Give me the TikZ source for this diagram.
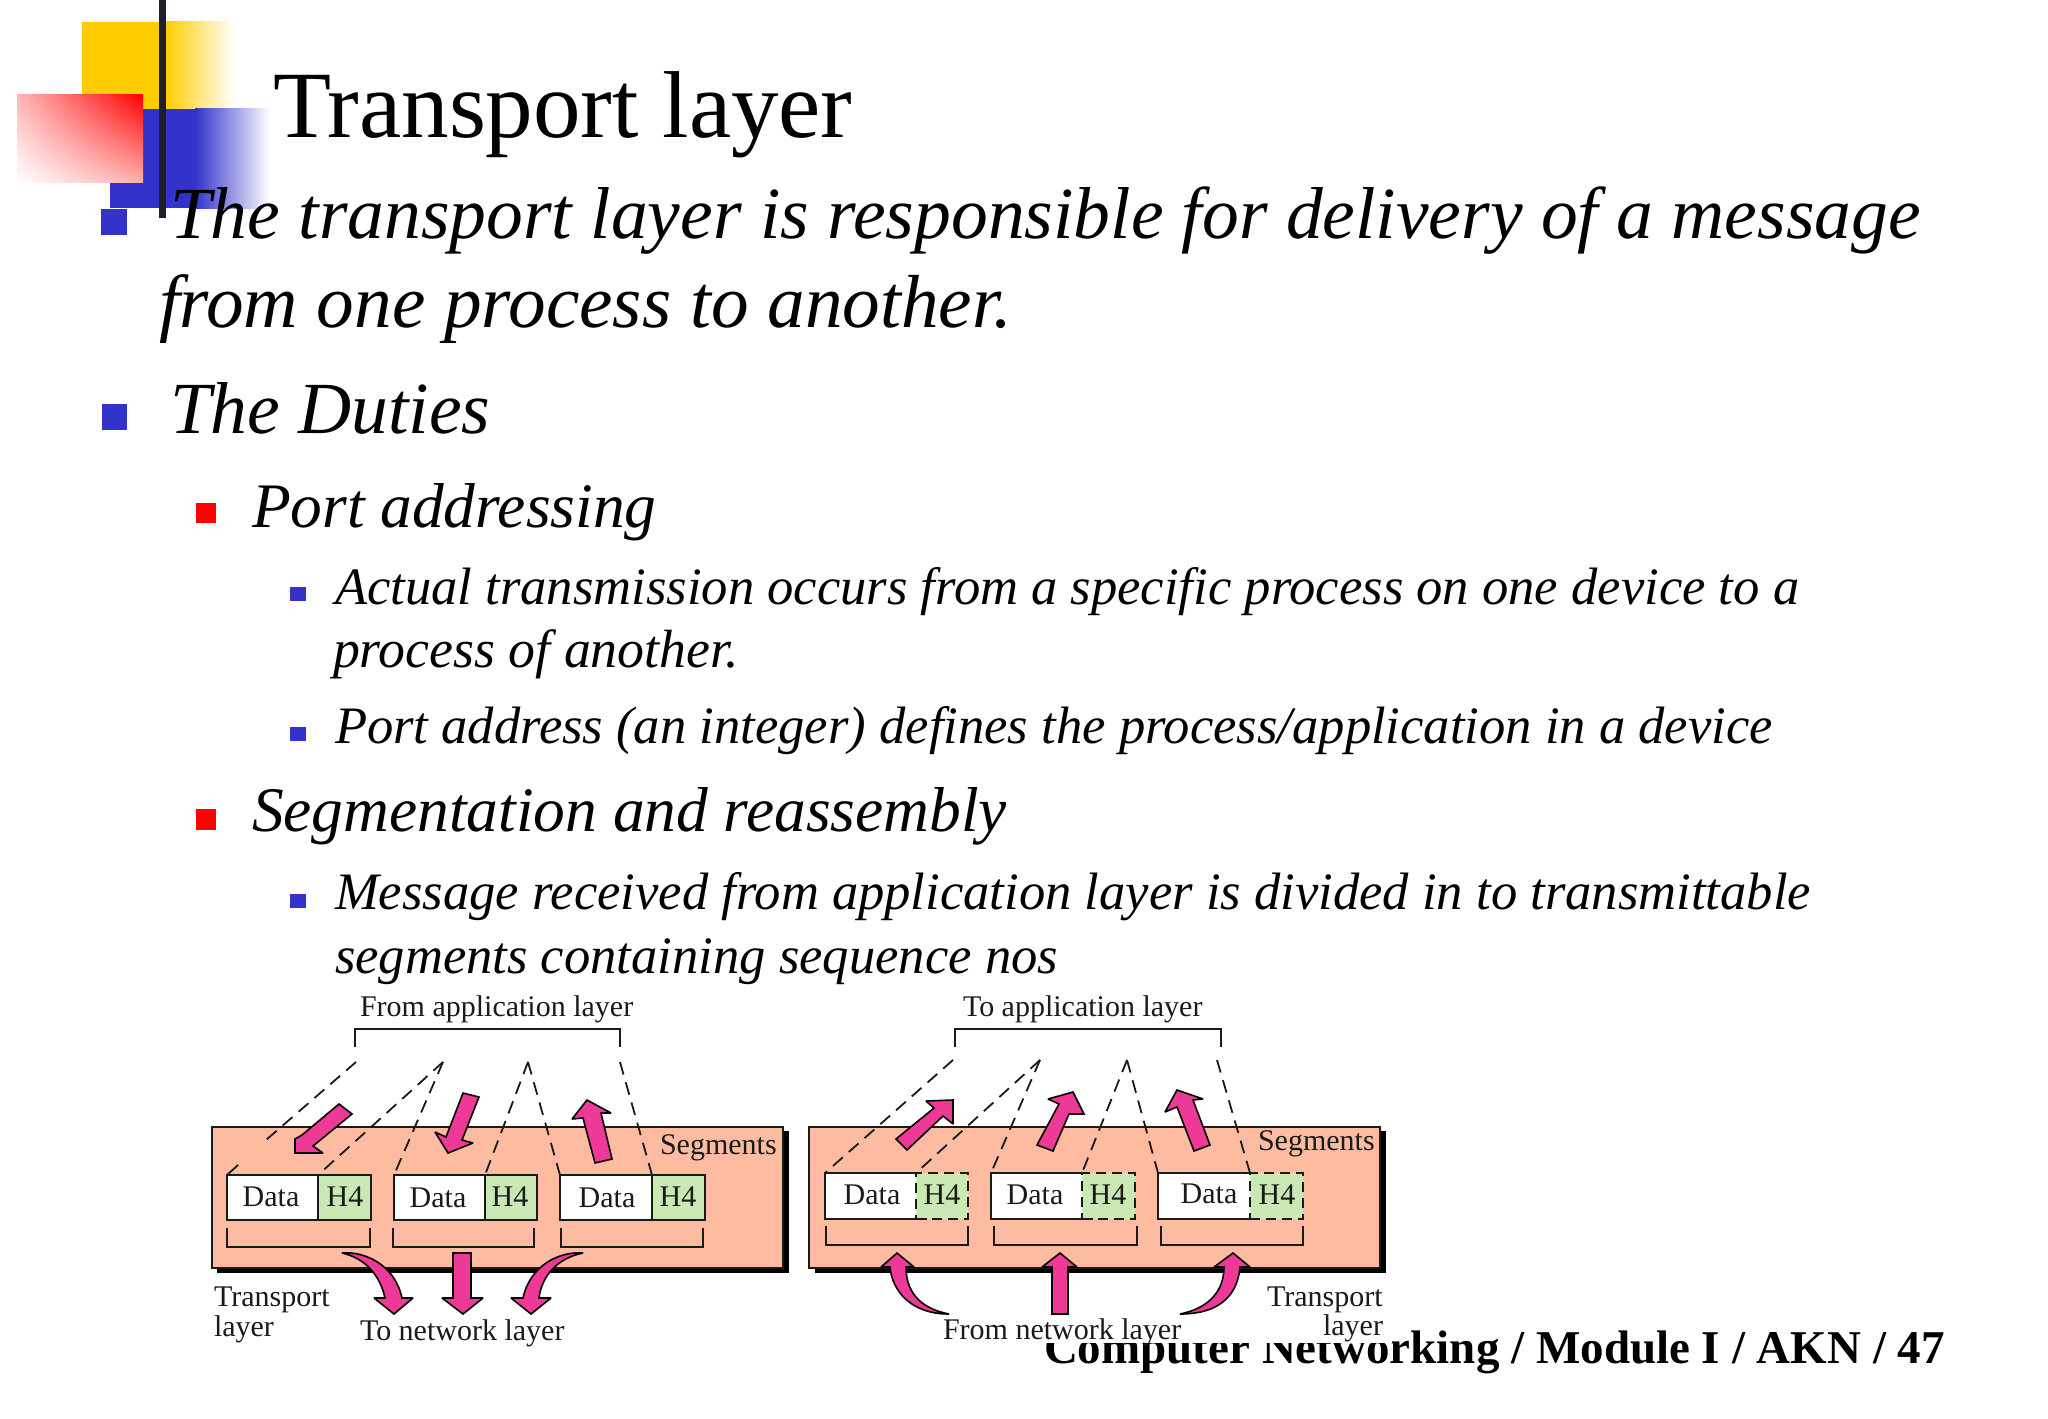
\documentclass[tikz,border=0pt]{standalone}
\usepackage{fontspec}
\usetikzlibrary{shadings}
\setmainfont{Liberation Serif}
\definecolor{yellowc}{HTML}{FFCC00}
\definecolor{bluec}{HTML}{3333CC}
\definecolor{lbar}{HTML}{1F1F2B}
\definecolor{panelc}{HTML}{FDBCA2}
\definecolor{hfour}{HTML}{C9E8B4}
\definecolor{pinkc}{HTML}{EE3A96}
\definecolor{inkc}{HTML}{1A1A1A}
\newcommand{\fsz}[1]{\fontsize{#1}{#1}\selectfont}
\tikzset{
  txt/.style={anchor=base west,inner sep=0pt,outer sep=0pt,text=black},
  titlet/.style={txt,font=\fsz{47.5}},
  lone/.style={txt,font=\fsz{36.75}\itshape},
  loneb/.style={txt,font=\fsz{37.6}\itshape},
  ltwo/.style={txt,font=\fsz{31.7}\itshape},
  lthree/.style={txt,font=\fsz{26.3}\itshape},
  lthreeb/.style={txt,font=\fsz{26.9}\itshape},
  foot/.style={txt,font=\fsz{23.5}\bfseries},
  small/.style={txt,font=\fsz{15},text=inkc},
  smallc/.style={anchor=base,inner sep=0pt,outer sep=0pt,font=\fsz{15},text=inkc},
  panel/.style={fill=panelc,draw=inkc,line width=.9pt},
  shadowbox/.style={fill=black},
  pkarrow/.style={fill=pinkc,draw=black,line width=.8pt,line join=miter,miter limit=2},
  dline/.style={draw=inkc,line width=.9pt,dash pattern=on 6.5pt off 4pt},
  pline/.style={draw=inkc,line width=.9pt},
  whitebox/.style={anchor=north west,fill=white,draw=inkc,line width=.9pt,inner sep=0pt,outer sep=0pt,minimum height=22.5pt},
  greenbox/.style={anchor=north west,fill=hfour,draw=inkc,line width=.9pt,inner sep=0pt,outer sep=0pt,minimum height=22.5pt},
  whitefill/.style={anchor=north west,fill=white,inner sep=0pt,outer sep=0pt,minimum height=23pt},
  greendash/.style={anchor=north west,fill=hfour,draw=inkc,line width=.9pt,dash pattern=on 5pt off 3pt,inner sep=0pt,outer sep=0pt,minimum height=23pt},
}
\begin{document}
\begin{tikzpicture}[x=0.5pt,y=-0.5pt]
\useasboundingbox (0,0) rectangle (2048,1418);
% corner decoration
\fill[yellowc] (82,22) rectangle (166,110);
\shade[left color=yellowc,right color=white] (165,22) rectangle (235,110);
\fill[bluec] (110,109) rectangle (196,208);
\shade[left color=bluec,right color=white] (195,109) rectangle (270,208);
\shade[upper right=red,lower left=white,upper left=red!28!white,lower right=red!32!white] (17,95) rectangle (143,182);
\fill[lbar] (159,0) rectangle (166,218);
% bullets
\fill[bluec] (101,209) rectangle (127,235);
\fill[bluec] (102,404) rectangle (127,430);
\fill[red] (196,503) rectangle (216,523);
\fill[red] (196,809) rectangle (216,830);
\fill[bluec] (290,587) rectangle (306,601);
\fill[bluec] (290,727) rectangle (306,741);
\fill[bluec] (290,894) rectangle (306,908);
% text
\node[titlet] (title) at (273,137) {Transport layer};
\node[lone] (t1) at (170,238) {The transport layer is responsible for delivery of a message};
\node[loneb] (t2) at (159,327) {from one process to another.};
\node[lone] (t3) at (170,433) {The Duties};
\node[ltwo] (t4) at (252,527) {Port addressing};
\node[lthree] (t5) at (335,604) {Actual transmission occurs from a specific process on one device to a};
\node[lthreeb] (t6) at (333,667) {process of another.};
\node[lthree] (t7) at (335,743) {Port address (an integer) defines the process/application in a device};
\node[ltwo] (t8) at (252,831) {Segmentation and reassembly};
\node[lthree] (t9) at (335,909) {Message received from application layer is divided in to transmittable};
\node[lthree] (t10) at (335,973) {segments containing sequence nos};
\node[foot] (footer) at (1044,1363) {Computer Networking / Module I / AKN / 47};
% white image background hiding the footer's top
\fill[white] (150,1005) rectangle (1392,1343);

% ---------- left panel
\fill[shadowbox] (217,1131) rectangle (789,1273);
\draw[panel] (212,1127) rectangle (783,1268);
\node[whitebox,minimum width=45.5pt] (ld1) at (227,1175) {};
\node[greenbox,minimum width=26.5pt] (lh1) at (ld1.north east) {};
\node[whitebox,minimum width=45.5pt] (ld2) at (394,1175) {};
\node[greenbox,minimum width=26pt] (lh2) at (ld2.north east) {};
\node[whitebox,minimum width=46pt] (ld3) at (560,1175) {};
\node[greenbox,minimum width=26.5pt] (lh3) at (ld3.north east) {};
\node[smallc] (ldt1) at (271,1206) {Data};
\node[smallc] (ldt2) at (438,1207) {Data};
\node[smallc] (ldt3) at (607,1207) {Data};
\node[smallc] (lht1) at (345,1206) {H4};
\node[smallc] (lht2) at (510,1206) {H4};
\node[smallc] (lht3) at (678,1206) {H4};
\draw[pline] (227,1228) -- (227,1247) -- (370,1247) -- (370,1228);
\draw[pline] (393,1228) -- (393,1247) -- (534,1247) -- (534,1228);
\draw[pline] (561,1228) -- (561,1247) -- (703,1247) -- (703,1228);
\draw[pline] (355,1047) -- (355,1029) -- (620,1029) -- (620,1047);
\coordinate (la) at (356,1062);
\coordinate (lb) at (443,1062);
\coordinate (lc) at (528,1062);
\coordinate (ld) at (620,1062);
\coordinate (lgap1) at (266,1140);
\coordinate (lgap2) at (238,1165);
\draw[dline] (la) -- (lgap1);
\draw[pline] (lgap2) -- (ld1.north west);
\draw[dline] (lb) -- (ld1.north east);
\draw[dline] (lb) -- (ld2.north west);
\draw[dline] (lc) -- (ld2.north east);
\draw[dline] (lc) -- (ld3.north west);
\draw[dline] (ld) -- (ld3.north east);
\draw[pkarrow] (339,1104) -- (352,1114) -- (313,1146) -- (323,1153) -- (295,1153) -- (295,1139) -- (302,1135) -- cycle;
\draw[pkarrow] (463,1093) -- (479,1097) -- (462,1140) -- (473,1143) -- (448,1153) -- (435,1132) -- (446,1137) -- cycle;
\draw[pkarrow] (595,1163) -- (612,1159) -- (601,1113) -- (611,1113) -- (587,1100) -- (572,1119) -- (583,1118) -- cycle;
\draw[pkarrow] (342,1253) .. controls (365,1251) and (395,1265) .. (402,1298) -- (413,1298) -- (394,1314) -- (374,1298) -- (385,1298) .. controls (380,1275) and (365,1258) .. cycle;
\draw[pkarrow] (453,1253) -- (471,1253) -- (471,1298) -- (483,1298) -- (463,1314) -- (442,1298) -- (453,1298) -- cycle;
\draw[pkarrow] (583,1253) .. controls (560,1251) and (530,1265) .. (523,1298) -- (511,1298) -- (531,1314) -- (551,1298) -- (539,1298) .. controls (542,1275) and (558,1258) .. cycle;
\node[small] (lfrom) at (360,1016) {From application layer};
\node[small] (lseg) at (660,1154) {Segments};
\node[small] (ltr) at (214,1306) {Transport};
\node[small] (lly) at (214,1336) {layer};
\node[small] (lnet) at (360,1340) {To network layer};

% ---------- right panel
\fill[shadowbox] (815,1131) rectangle (1386,1273);
\draw[panel] (809,1127) rectangle (1380,1268);
\node[whitefill,minimum width=45.5pt] (rd1) at (825,1173) {};
\node[greendash,minimum width=26pt] (rh1) at (rd1.north east) {};
\node[whitefill,minimum width=45.5pt] (rd2) at (991,1173) {};
\node[greendash,minimum width=26.5pt] (rh2) at (rd2.north east) {};
\node[whitefill,minimum width=46pt] (rd3) at (1158,1173) {};
\node[greendash,minimum width=26.5pt] (rh3) at (rd3.north east) {};
\draw[pline] (rd1.north east) -- (rd1.north west) -- (rd1.south west) -- ++(102,0);
\draw[pline] (rd2.north east) -- (rd2.north west) -- (rd2.south west) -- ++(102,0);
\draw[pline] (rd3.north east) -- (rd3.north west) -- (rd3.south west) -- ++(102,0);
\node[smallc] (rdt1) at (872,1204) {Data};
\node[smallc] (rdt2) at (1035,1204) {Data};
\node[smallc] (rdt3) at (1209,1203) {Data};
\node[smallc] (rht1) at (942,1204) {H4};
\node[smallc] (rht2) at (1108,1204) {H4};
\node[smallc] (rht3) at (1277,1204) {H4};
\draw[pline] (826,1226) -- (826,1245) -- (968,1245) -- (968,1226);
\draw[pline] (994,1226) -- (994,1245) -- (1137,1245) -- (1137,1226);
\draw[pline] (1161,1226) -- (1161,1245) -- (1303,1245) -- (1303,1226);
\draw[pline] (955,1047) -- (955,1029) -- (1221,1029) -- (1221,1047);
\coordinate (ra) at (953,1060);
\coordinate (rb) at (1040,1060);
\coordinate (rc) at (1127,1060);
\coordinate (rd) at (1217,1060);
\draw[dline] (ra) -- (rd1.north west);
\draw[dline] (rb) -- (rd1.north east);
\draw[dline] (rb) -- (rd2.north west);
\draw[dline] (rc) -- (rd2.north east);
\draw[dline] (rc) -- (rd3.north west);
\draw[dline] (rd) -- (rd3.north east);
\draw[pkarrow] (896,1139) -- (907,1150) -- (943,1116) -- (953,1124) -- (953,1100) -- (926,1101) -- (934,1108) -- cycle;
\draw[pkarrow] (1037,1145) -- (1053,1151) -- (1069,1114) -- (1084,1114) -- (1073,1092) -- (1048,1099) -- (1059,1104) -- cycle;
\draw[pkarrow] (1194,1151) -- (1210,1145) -- (1193,1100) -- (1203,1099) -- (1177,1090) -- (1165,1112) -- (1177,1107) -- cycle;
\draw[pkarrow] (949,1314) .. controls (918,1308) and (906,1290) .. (906,1267) -- (914,1267) -- (897,1253) -- (881,1267) -- (890,1267) .. controls (892,1290) and (910,1314) .. cycle;
\draw[pkarrow] (1052,1314) -- (1068,1314) -- (1068,1267) -- (1077,1267) -- (1060,1253) -- (1042,1267) -- (1052,1267) -- cycle;
\draw[pkarrow] (1180,1314) .. controls (1210,1308) and (1224,1290) .. (1224,1267) -- (1214,1267) -- (1233,1253) -- (1250,1267) -- (1240,1267) .. controls (1238,1290) and (1225,1314) .. cycle;
\node[small] (rfrom) at (963,1016) {To application layer};
\node[small] (rseg) at (1258,1150) {Segments};
\node[small] (rtr) at (1267,1306) {Transport};
\node[small] (rly) at (1323,1335) {layer};
\node[small] (rnet) at (943,1339) {From network layer};
\end{tikzpicture}
\end{document}
